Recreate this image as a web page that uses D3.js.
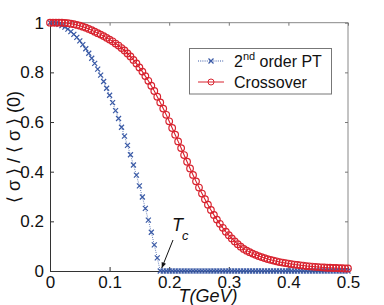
<!DOCTYPE html>
<html><head><meta charset="utf-8">
<script src="https://cdn.jsdelivr.net/npm/d3@7"></script>
<style>
html,body{margin:0;padding:0;background:#fff;}
text{font-family:"Liberation Sans",Arial,sans-serif;}
</style></head>
<body><svg id="c" width="384" height="305"></svg>
<script>
// Temperature grid (GeV), step 0.005 from 0 to 0.5
const temps = d3.range(101).map(i => +(i*0.005).toFixed(3));
// 2nd order phase transition series
const secondOrder = [
 1.000,0.999,0.997,0.993,0.988,0.982,0.974,0.964,0.953,0.941,
 0.927,0.912,0.895,0.877,0.857,0.836,0.813,0.789,0.763,0.736,
 0.708,0.678,0.646,0.614,0.579,0.543,0.506,0.468,0.427,0.386,
 0.343,0.298,0.252,0.205,0.156,0.105,0.053,0.000,0.000,0.000,
 0.000,0.000,0.000,0.000,0.000,0.000,0.000,0.000,0.000,0.000,
 0.000,0.000,0.000,0.000,0.000,0.000,0.000,0.000,0.000,0.000,
 0.000,0.000,0.000,0.000,0.000,0.000,0.000,0.000,0.000,0.000,
 0.000,0.000,0.000,0.000,0.000,0.000,0.000,0.000,0.000,0.000,
 0.000,0.000,0.000,0.000,0.000,0.000,0.000,0.000,0.000,0.000,
 0.000,0.000,0.000,0.000,0.000,0.000,0.000,0.000,0.000,0.000,
 0.000];
// Crossover series
const crossover = [
 1.000,1.000,1.000,1.000,1.000,0.999,0.998,0.996,0.994,0.991,
 0.988,0.984,0.980,0.975,0.970,0.964,0.958,0.952,0.946,0.939,
 0.932,0.925,0.916,0.908,0.898,0.888,0.876,0.864,0.850,0.836,
 0.820,0.803,0.785,0.766,0.746,0.725,0.702,0.679,0.654,0.629,
 0.603,0.576,0.549,0.522,0.495,0.467,0.440,0.413,0.387,0.361,
 0.336,0.312,0.289,0.267,0.246,0.226,0.207,0.190,0.174,0.158,
 0.144,0.131,0.119,0.108,0.098,0.089,0.082,0.076,0.070,0.065,
 0.060,0.056,0.052,0.048,0.045,0.042,0.039,0.036,0.034,0.032,
 0.030,0.028,0.026,0.025,0.023,0.022,0.020,0.019,0.018,0.017,
 0.016,0.015,0.014,0.013,0.013,0.012,0.012,0.011,0.011,0.010,
 0.010];
const xTicks = [0,0.1,0.2,0.3,0.4,0.5];
const xTickLabels = ["0","0.1","0.2","0.3","0.4","0.5"];
const yTicks = [0,0.2,0.4,0.6,0.8,1];
const yTickLabels = ["0","0.2","0.4","0.6","0.8","1"];
const seriesNames = ["order PT","Crossover"];
const Tc = 0.185;

const svg = d3.select("#c");
const L=50,R=348,T=22.7,B=271;
const x = d3.scaleLinear().domain([0,0.5]).range([L,R]);
const y = d3.scaleLinear().domain([0,1]).range([B,T]);
const blue="#3a5aa6", red="#d8232f";

// frame
svg.append("line").attr("x1",L).attr("x2",R).attr("y1",T).attr("y2",T).attr("stroke","#888");
svg.append("line").attr("x1",R).attr("x2",R).attr("y1",T).attr("y2",B).attr("stroke","#888");

// axes
const xb = d3.axisBottom(x).tickValues(xTicks).tickFormat((d,i)=>xTickLabels[i]).tickSizeInner(-4).tickSizeOuter(0).tickPadding(5);
const gx = svg.append("g").attr("transform",`translate(0,${B})`).call(xb);
gx.select(".domain").attr("stroke","#333");
gx.selectAll("line").attr("stroke","#333");
gx.selectAll("text").attr("font-size",17).attr("fill","#111");
const xt = d3.axisTop(x).tickValues(xTicks).tickFormat("").tickSizeInner(-3).tickSizeOuter(0);
const gxt = svg.append("g").attr("transform",`translate(0,${T})`).call(xt);
gxt.select(".domain").remove(); gxt.selectAll("line").attr("stroke","#777");

const yl = d3.axisLeft(y).tickValues(yTicks).tickFormat((d,i)=>yTickLabels[i]).tickSizeInner(-4).tickSizeOuter(0).tickPadding(6);
const gy = svg.append("g").attr("transform",`translate(${L},0)`).call(yl);
gy.select(".domain").attr("stroke","#333");
gy.selectAll("line").attr("stroke","#333");
gy.selectAll("text").attr("font-size",17).attr("fill","#111");
const yr = d3.axisRight(y).tickValues(yTicks).tickFormat("").tickSizeInner(-3).tickSizeOuter(0);
const gyr = svg.append("g").attr("transform",`translate(${R},0)`).call(yr);
gyr.select(".domain").remove(); gyr.selectAll("line").attr("stroke","#777");

// series
const line = d3.line().x((d,i)=>x(temps[i])).y(d=>y(d));
svg.append("path").datum(crossover).attr("d",line).attr("fill","none").attr("stroke",red).attr("stroke-width",1.1);
svg.append("path").datum(secondOrder).attr("d",line).attr("fill","none").attr("stroke",blue).attr("stroke-width",0.8).attr("stroke-dasharray","1,1.2");
const xm = 2.5;
const cross = (g,cx,cy)=>{
  g.append("path").attr("d",`M${cx-xm},${cy-xm}L${cx+xm},${cy+xm}M${cx-xm},${cy+xm}L${cx+xm},${cy-xm}`)
   .attr("stroke",blue).attr("stroke-width",1.2).attr("fill","none");
};
const gb = svg.append("g");
secondOrder.forEach((v,i)=>cross(gb,x(temps[i]),y(v)));
svg.append("g").selectAll("circle").data(crossover).join("circle")
  .attr("cx",(d,i)=>x(temps[i])).attr("cy",d=>y(d)).attr("r",3.3)
  .attr("fill","none").attr("stroke",red).attr("stroke-width",1.2);

// legend
const lg = svg.append("g");
lg.append("rect").attr("x",189.5).attr("y",48.5).attr("width",142).attr("height",45.5).attr("fill","#fff").attr("stroke","#777");
lg.append("line").attr("x1",198).attr("x2",224).attr("y1",61).attr("y2",61).attr("stroke",blue).attr("stroke-dasharray","1,1.2");
cross(lg,211,61);
lg.append("text").attr("x",234).attr("y",67).attr("font-size",16).attr("fill","#111")
  .html(`2<tspan dy="-7" font-size="11">nd</tspan><tspan dy="7"> ${seriesNames[0]}</tspan>`);
lg.append("line").attr("x1",198).attr("x2",224).attr("y1",82).attr("y2",82).attr("stroke",red);
lg.append("circle").attr("cx",211).attr("cy",82).attr("r",3).attr("fill","none").attr("stroke",red);
lg.append("text").attr("x",234).attr("y",88).attr("font-size",16).attr("fill","#111").text(seriesNames[1]);

// Tc annotation
svg.append("text").attr("x",172).attr("y",231).attr("font-size",18).attr("font-style","italic").attr("fill","#111").text("T");
svg.append("text").attr("x",182).attr("y",240).attr("font-size",13).attr("font-style","italic").attr("fill","#111").text("c");
const ax0 = 173, ay0 = 240, ax1 = x(Tc)+1.5, ay1 = y(0)-3;
svg.append("line").attr("x1",ax0).attr("y1",ay0).attr("x2",ax1).attr("y2",ay1).attr("stroke","#111").attr("stroke-width",1);
const ang = Math.atan2(ay1-ay0, ax1-ax0);
const hl=6, hw=0.4;
svg.append("path").attr("d",`M${ax1},${ay1}L${ax1-hl*Math.cos(ang-hw)},${ay1-hl*Math.sin(ang-hw)}L${ax1-hl*Math.cos(ang+hw)},${ay1-hl*Math.sin(ang+hw)}Z`).attr("fill","#111");

// axis labels
svg.append("text").attr("x",208).attr("y",302).attr("text-anchor","middle").attr("font-size",18).attr("font-style","italic").attr("fill","#111").text("T(GeV)");
svg.append("text").attr("transform","translate(20,147) rotate(-90)").attr("text-anchor","middle").attr("font-size",18).attr("fill","#111").text("⟨ σ ⟩ / ⟨ σ ⟩ (0)");
</script></body></html>
